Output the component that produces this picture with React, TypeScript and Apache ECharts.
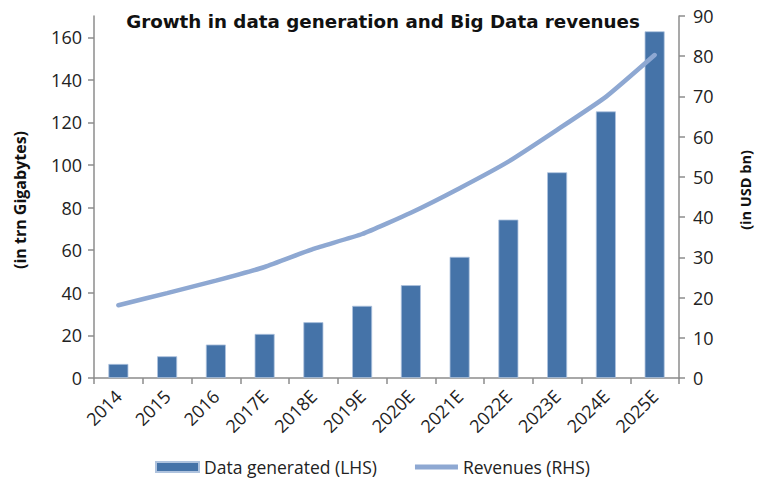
import React, { useEffect, useRef } from "react";
import * as echarts from "echarts";

const categories = ["2014", "2015", "2016", "2017E", "2018E", "2019E", "2020E", "2021E", "2022E", "2023E", "2024E", "2025E"];
const dataGenerated = [6.6, 10.2, 15.7, 20.7, 26.2, 33.9, 43.6, 56.9, 74.4, 96.6, 125.2, 162.8];
const revenues = [18.1, 21.1, 24.2, 27.6, 32.1, 35.8, 41.1, 47.2, 53.8, 61.7, 69.9, 80.3];
const leftTicks = [0, 20, 40, 60, 80, 100, 120, 140, 160];
const rightTicks = [0, 10, 20, 30, 40, 50, 60, 70, 80, 90];

const FONT = "Open Sans";
const AXIS = "#8c8c8c";

export default function App() {
  const ref = useRef<HTMLDivElement>(null);
  useEffect(() => {
    const chart = echarts.init(ref.current!, undefined, { renderer: "svg" });
    chart.setOption({
      animation: false,
      title: {
        text: "Growth in data generation and Big Data revenues",
        left: 378,
        top: 7,
        textAlign: "center",
        textStyle: { fontFamily: "DejaVu Sans", fontWeight: "bold", fontSize: 18.3, color: "#111" },
      },
      graphic: [
        {
          type: "text",
          x: 20,
          y: 200,
          rotation: Math.PI / 2,
          style: {
            text: "(in trn Gigabytes)",
            fontFamily: FONT,
            fontWeight: "bold",
            fontSize: 16,
            fill: "#111",
            align: "center",
            verticalAlign: "middle",
          },
        },
        {
          type: "text",
          x: 745,
          y: 190,
          rotation: Math.PI / 2,
          style: {
            text: "(in USD bn)",
            fontFamily: FONT,
            fontWeight: "bold",
            fontSize: 14.5,
            fill: "#111",
            align: "center",
            verticalAlign: "middle",
          },
        },
      ],
      legend: {
        top: 453,
        left: 150,
        itemWidth: 43,
        itemHeight: 10,
        itemGap: 38,
        textStyle: { fontFamily: FONT, fontSize: 17.5, color: "#222" },
        data: [
          { name: "Data generated (LHS)", icon: "rect" },
          { name: "Revenues (RHS)", icon: "path://M0,0 L43,0 L43,5 L0,5 Z" },
        ],
      },
      grid: { left: 94, right: 88, top: 16, bottom: 100, containLabel: false },
      xAxis: {
        type: "category",
        data: categories,
        axisLine: { lineStyle: { color: AXIS, width: 1.5 } },
        axisTick: { show: true, length: 6, lineStyle: { color: AXIS, width: 1.5 } },
        axisLabel: { rotate: 45, fontFamily: FONT, fontSize: 18, color: "#222", margin: 15 },
      },
      yAxis: [
        {
          type: "value",
          min: 0,
          max: 170,
          interval: 10,
          splitLine: { show: false },
          axisLine: { show: true, lineStyle: { color: AXIS, width: 1.5 } },
          axisTick: { show: true, length: 6, lineStyle: { color: AXIS, width: 1.5 }, customValues: leftTicks },
          axisLabel: { fontFamily: FONT, fontSize: 18, color: "#222", margin: 12, customValues: leftTicks },
        },
        {
          type: "value",
          min: 0,
          max: 90,
          interval: 10,
          splitLine: { show: false },
          axisLine: { show: true, lineStyle: { color: AXIS, width: 1.5 } },
          axisTick: { show: true, length: 6, lineStyle: { color: AXIS, width: 1.5 }, customValues: rightTicks },
          axisLabel: { fontFamily: FONT, fontSize: 18, color: "#222", margin: 14, customValues: rightTicks },
        },
      ],
      series: [
        {
          name: "Data generated (LHS)",
          type: "bar",
          yAxisIndex: 0,
          data: dataGenerated,
          barWidth: 20,
          itemStyle: { color: "#4573A8", borderColor: "#AFC3DE", borderWidth: 0.8 },
        },
        {
          name: "Revenues (RHS)",
          type: "line",
          yAxisIndex: 1,
          data: revenues,
          symbol: "none",
          smooth: 0.15,
          lineStyle: { color: "#8EA8D2", width: 4.5, cap: "round" },
          itemStyle: { color: "#8EA8D2" },
        },
      ],
    });
    return () => chart.dispose();
  }, []);
  return <div ref={ref} style={{ position: "absolute", left: 0, top: 0, width: 767, height: 478 }} />;
}
